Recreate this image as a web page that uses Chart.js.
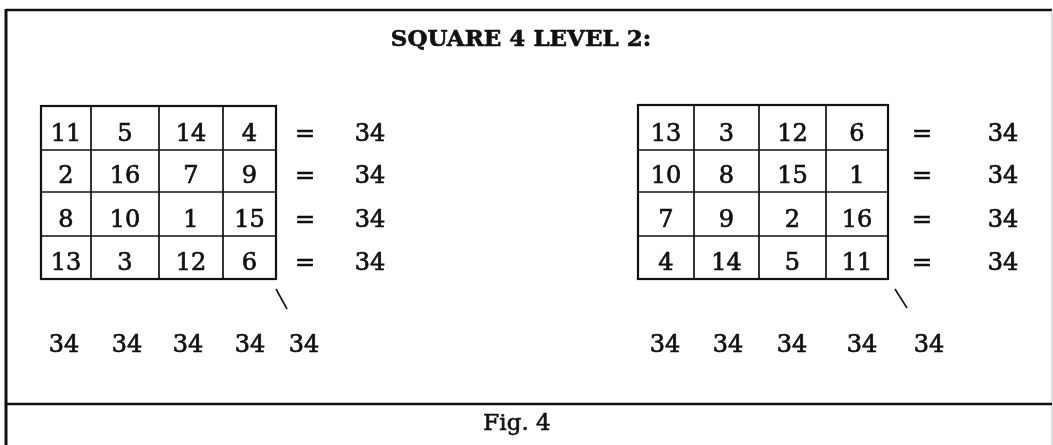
<!DOCTYPE html>
<html><head><meta charset="utf-8">
<script src="https://cdn.jsdelivr.net/npm/chart.js@4/dist/chart.umd.min.js"></script>
<style>html,body{margin:0;padding:0;background:#fff;overflow:hidden}</style>
</head><body>
<canvas id="c" width="1053" height="445"></canvas>
<script>
// ---- data ----
const titleText = "SQUARE 4 LEVEL 2:";
const captionText = "Fig. 4";
const leftSquare = [[11,5,14,4],[2,16,7,9],[8,10,1,15],[13,3,12,6]];
const rightSquare = [[13,3,12,6],[10,8,15,1],[7,9,2,16],[4,14,5,11]];
const leftRowSums = [34,34,34,34];
const rightRowSums = [34,34,34,34];
const leftColSums = [34,34,34,34,34];   // four columns + diagonal
const rightColSums = [34,34,34,34,34];

// ---- layout (positions in scale units) ----
const L = {
  left:  {cols:[41,91,159,223,276], rows:[106,150,192,236,279], eqX:305, sumX:370,
          slash:[276,289,287,309], bottomX:[64,127,188,250,304]},
  right: {cols:[638,694,759,826,888], rows:[105,150,192,236,279], eqX:922, sumX:1003,
          slash:[895,289,907,308], bottomX:[665,728,792,862,929]},
  bottomBase: 352, titleX: 521, titleBase: 46, sepY: 404, capX: 517, capBase: 430,
  frame: {l:6, t:10, r:1052, b:450}
};
const INK = '#111';
const numFont = '24px "DejaVu Serif"';

const figurePlugin = {
  id: 'figure',
  afterDraw(chart) {
    const ctx = chart.ctx, xs = chart.scales.x, ys = chart.scales.y;
    const X = v => xs.getPixelForValue(v), Y = v => ys.getPixelForValue(v);
    ctx.save();
    ctx.fillStyle = '#fff';
    ctx.fillRect(0, 0, chart.width, chart.height);
    ctx.strokeStyle = INK; ctx.fillStyle = INK;
    const line = (x1,y1,x2,y2,w) => { ctx.lineWidth = w; ctx.beginPath(); ctx.moveTo(X(x1),Y(y1)); ctx.lineTo(X(x2),Y(y2)); ctx.stroke(); };
    const text = (t, x, y, sw) => { ctx.fillText(t, X(x), Y(y)); if (sw) { ctx.lineWidth = sw; ctx.strokeText(t, X(x), Y(y)); } };
    // frame
    const f = L.frame;
    line(f.l, f.t, f.r, f.t, 2.5);
    line(f.l, f.t - 1, f.l, f.b, 3);
    ctx.strokeStyle = '#bbb'; line(f.r, f.t, f.r, f.b, 1); ctx.strokeStyle = INK;
    line(f.l, L.sepY, f.r, L.sepY, 2.5);
    // title
    ctx.textAlign = 'center'; ctx.textBaseline = 'alphabetic';
    ctx.font = 'bold 23px "DejaVu Serif"';
    text(titleText, L.titleX, L.titleBase, 0.6);
    ctx.font = '23px "DejaVu Serif"';
    text(captionText, L.capX, L.capBase, 0.6);
    // squares
    const drawSquare = (sq, rowSums, colSums, g) => {
      const c = g.cols, r = g.rows;
      for (let i = 1; i < c.length - 1; i++) line(c[i], r[0], c[i], r[r.length-1], 1.7);
      for (let j = 1; j < r.length - 1; j++) line(c[0], r[j], c[c.length-1], r[j], 1.7);
      ctx.lineWidth = 2.2;
      ctx.strokeRect(X(c[0]), Y(r[0]), X(c[c.length-1]) - X(c[0]), Y(r[r.length-1]) - Y(r[0]));
      ctx.font = numFont; ctx.textAlign = 'center';
      sq.forEach((row, j) => {
        const base = r[j+1] - 9;
        row.forEach((v, i) => text(String(v), (c[i] + c[i+1]) / 2, base, 0.7));
        text('=', g.eqX, base, 0.7);
        text(String(rowSums[j]), g.sumX, base, 0.7);
      });
      const s = g.slash; line(s[0], s[1], s[2], s[3], 1.6);
      colSums.forEach((v, i) => text(String(v), g.bottomX[i], L.bottomBase, 0.7));
    };
    drawSquare(leftSquare, leftRowSums, leftColSums, L.left);
    drawSquare(rightSquare, rightRowSums, rightColSums, L.right);
    ctx.restore();
  }
};

function build() {
  new Chart(document.getElementById('c'), {
    type: 'scatter',
    data: { datasets: [{ data: [], pointRadius: 0 }] },
    options: {
      responsive: false, animation: false,
      layout: { padding: 0 },
      plugins: { legend: { display: false }, tooltip: { enabled: false } },
      scales: {
        x: { type: 'linear', min: 0, max: 1053, display: false },
        y: { type: 'linear', min: 0, max: 445, reverse: true, display: false }
      }
    },
    plugins: [figurePlugin]
  });
}
Promise.all([
  document.fonts.load('24px "DejaVu Serif"'),
  document.fonts.load('bold 23px "DejaVu Serif"')
]).then(build, build);
</script>
</body></html>
